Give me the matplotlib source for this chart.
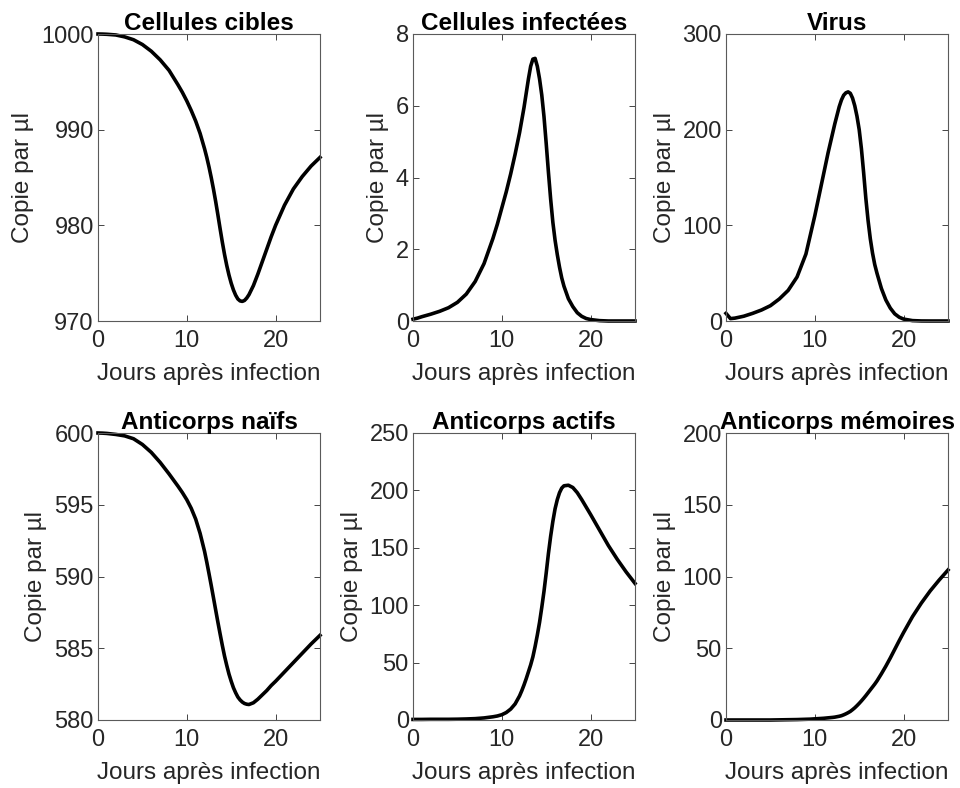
import matplotlib.pyplot as plt
import numpy as np

plt.rcParams['font.family'] = ['Liberation Sans', 'DejaVu Sans']

# Data
days = [0, 0.5, 1, 2, 3, 4, 5, 6, 7, 8, 9, 9.5, 10, 10.5, 11, 11.5,
        12, 12.25, 12.5, 12.75, 13, 13.25, 13.5, 13.75, 14, 14.25, 14.5, 14.75,
        15, 15.25, 15.5, 15.75, 16, 16.25, 16.5, 16.75, 17,
        17.5, 18, 18.5, 19, 19.5, 20, 21, 22, 23, 24, 25]

cibles = [1000, 999.99, 999.97, 999.9, 999.7, 999.4, 998.9, 998.2, 997.3, 996.2,
          994.7, 993.9, 993.0, 992.0, 990.9, 989.6,
          988.0, 987.1, 986.1, 985.0, 983.8, 982.5, 981.1, 979.65, 978.25, 976.95,
          975.8, 974.8, 973.95, 973.25, 972.7, 972.3, 972.1, 972.05, 972.15, 972.4,
          972.75, 973.7, 974.9, 976.2, 977.5, 978.8, 980.0, 982.1, 983.8, 985.1,
          986.2, 987.1]

infectees = [0.05, 0.08, 0.12, 0.19, 0.27, 0.37, 0.52, 0.75, 1.1, 1.6,
             2.3, 2.7, 3.15, 3.6, 4.1, 4.65,
             5.25, 5.6, 5.95, 6.35, 6.75, 7.1, 7.3, 7.32, 7.1, 6.75,
             6.3, 5.7, 4.95, 4.15, 3.4, 2.75, 2.25, 1.85, 1.5, 1.2,
             0.97, 0.62, 0.4, 0.23, 0.13, 0.07, 0.04, 0.01, 0, 0, 0, 0]

virus = [8, 2.5, 3, 5, 8, 11.5, 16, 23, 32, 46,
         70, 90, 110, 132, 154, 176,
         196, 206, 215, 224, 231, 236, 238.5, 239.5, 238, 233,
         225, 214, 200, 180, 155, 128, 105, 86, 71, 59,
         50, 34, 22, 13.5, 7.5, 4, 2, 0.4, 0.05, 0, 0, 0]

naifs = [600, 599.99, 599.97, 599.9, 599.8, 599.6, 599.2, 598.65, 597.95, 597.15,
         596.3, 595.85, 595.35, 594.75, 594.0, 593.0,
         591.75, 591.0, 590.2, 589.38, 588.53, 587.67, 586.82, 586.0, 585.2, 584.45,
         583.8, 583.2, 582.7, 582.25, 581.9, 581.6, 581.4, 581.25, 581.15, 581.1,
         581.08, 581.2, 581.45, 581.75, 582.05, 582.4, 582.7, 583.35, 584.0, 584.65,
         585.3, 585.9]

actifs = [0.5, 0.5, 0.5, 0.6, 0.6, 0.6, 0.7, 0.9, 1.2, 1.8,
          2.8, 3.5, 4.6, 6.5, 9.5, 14,
          21, 25.5, 30.5, 36, 42, 48, 55, 64, 74, 85,
          98, 112, 128, 145, 160, 173, 184, 192, 198, 202,
          204, 204.5, 202.5, 198, 192, 185.5, 179, 165.5, 152, 140, 129, 119]

memoires = [0, 0, 0, 0, 0, 0, 0, 0.1, 0.2, 0.3,
            0.5, 0.6, 0.8, 1.0, 1.2, 1.5,
            1.8, 2.0, 2.3, 2.6, 3.0, 3.6, 4.3, 5.1, 6.0, 7.2,
            8.5, 10.0, 11.6, 13.3, 15.1, 17.0, 19.0, 21.0, 23.0, 25.0,
            27.2, 32.2, 37.5, 43.2, 49.2, 55.2, 61, 72, 81.5, 90, 97.5, 104.5]

titles = ["Cellules cibles", "Cellules infectées", "Virus",
          "Anticorps naïfs", "Anticorps actifs", "Anticorps mémoires"]
series = [cibles, infectees, virus, naifs, actifs, memoires]
ylims = [(970, 1000), (0, 8), (0, 300), (580, 600), (0, 250), (0, 200)]
yticks = [[970, 980, 990, 1000], [0, 2, 4, 6, 8], [0, 100, 200, 300],
          [580, 585, 590, 595, 600], [0, 50, 100, 150, 200, 250],
          [0, 50, 100, 150, 200]]

# Layout
fig = plt.figure(figsize=(9.6, 7.88), dpi=100)
lefts = [98, 413, 726]
tops = [34, 433]
w, h = 222, 287
txt = '#262626'

for i in range(6):
    r, c = divmod(i, 3)
    ax = fig.add_axes([lefts[c] / 960, 1 - (tops[r] + h) / 788, w / 960, h / 788])
    ax.plot(days, series[i], color='black', linewidth=2.6,
            solid_joinstyle='round', clip_on=False)
    ax.set_xlim(0, 25)
    ax.set_ylim(*ylims[i])
    ax.set_xticks([0, 10, 20])
    ax.set_yticks(yticks[i])
    ax.tick_params(direction='in', top=True, right=True, length=4, width=0.6,
                   color=txt, labelsize=17, labelcolor=txt)
    ax.tick_params(axis='x', pad=6.5)
    ax.tick_params(axis='y', pad=3)
    for s in ax.spines.values():
        s.set_color('#5a5a5a')
        s.set_linewidth(0.8)
    ax.set_title(titles[i], fontsize=17.5, fontweight='bold', color='black', pad=3)
    ax.set_xlabel("Jours après infection", fontsize=17.5, color=txt, labelpad=8)
    ax.set_ylabel("Copie par µl", fontsize=17.5, color=txt, labelpad=5)

plt.savefig("out.png", dpi=100)
